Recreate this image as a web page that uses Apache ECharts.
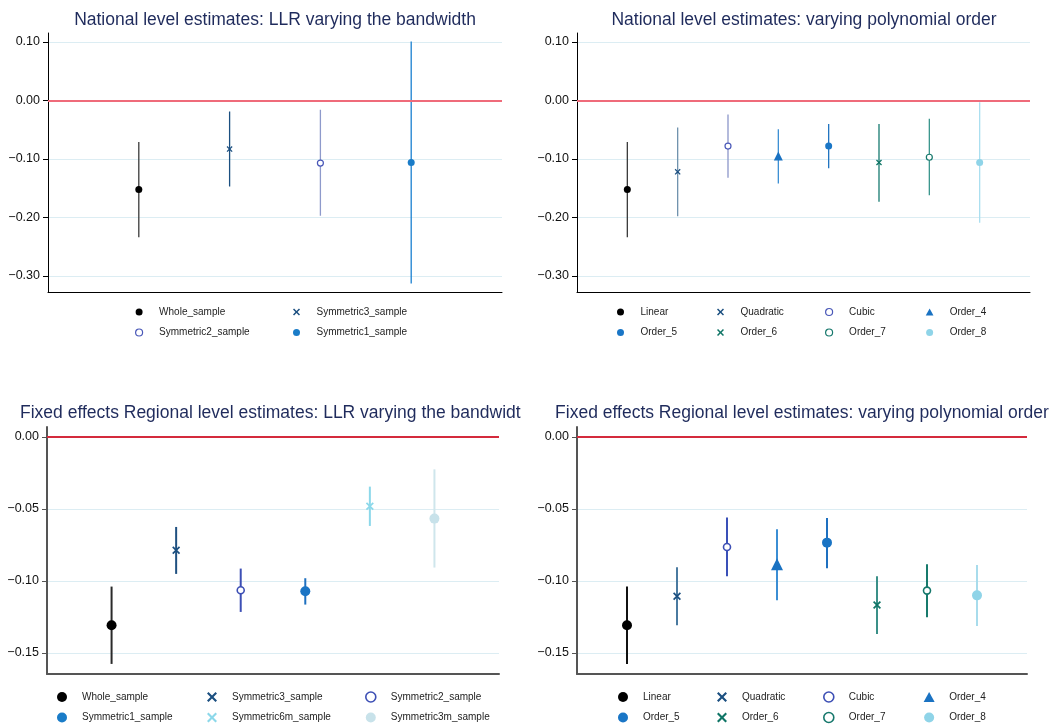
<!DOCTYPE html>
<html>
<head>
<meta charset="utf-8">
<script src="https://cdn.jsdelivr.net/npm/echarts@6/dist/echarts.min.js"></script>
<style>
  html, body { margin: 0; padding: 0; background: #fff; }
  #main { width: 1054px; height: 724px; }
</style>
</head>
<body>
<div id="main"></div>
<script>
// national level, LLR varying the bandwidth
const tlNames = ['Whole_sample', 'Symmetric3_sample', 'Symmetric2_sample', 'Symmetric1_sample']
const tlEst = [-0.152, -0.083, -0.107, -0.106]
const tlLo = [-0.234, -0.147, -0.197, -0.313]
const tlHi = [-0.071, -0.019, -0.016, 0.101]

// national level, varying polynomial order
const trNames = ['Linear', 'Quadratic', 'Cubic', 'Order_4', 'Order_5', 'Order_6', 'Order_7', 'Order_8']
const trEst = [-0.152, -0.122, -0.078, -0.095, -0.078, -0.106, -0.097, -0.106]
const trLo = [-0.234, -0.198, -0.132, -0.142, -0.116, -0.173, -0.162, -0.209]
const trHi = [-0.071, -0.046, -0.024, -0.049, -0.040, -0.040, -0.031, -0.003]

// fixed effects regional, LLR varying the bandwidth
const blNames = ['Whole_sample', 'Symmetric3_sample', 'Symmetric2_sample', 'Symmetric1_sample', 'Symmetric6m_sample', 'Symmetric3m_sample']
const blEst = [-0.1308, -0.0787, -0.1065, -0.1072, -0.0481, -0.0567]
const blLo = [-0.1576, -0.0951, -0.1215, -0.1164, -0.0618, -0.0907]
const blHi = [-0.1039, -0.0625, -0.0914, -0.0981, -0.0345, -0.0225]

// fixed effects regional, varying polynomial order
const brNames = trNames
const brEst = [-0.1308, -0.1106, -0.0764, -0.0884, -0.0734, -0.1167, -0.1067, -0.1100]
const brLo = [-0.1576, -0.1308, -0.0968, -0.1134, -0.0912, -0.1368, -0.1252, -0.1312]
const brHi = [-0.1039, -0.0905, -0.0560, -0.0641, -0.0563, -0.0968, -0.0884, -0.0889]

// y tick labels
const natTicks = [-0.3, -0.2, -0.1, 0, 0.1]
const regTicks = [-0.15, -0.1, -0.05, 0]

const FONT = '"Liberation Sans", Arial, Helvetica, sans-serif'
const CROSS = 'path://M0,1.5L1.5,0L5,3.5L8.5,0L10,1.5L6.5,5L10,8.5L8.5,10L5,6.5L1.5,10L0,8.5L3.5,5Z'
const HOLLOW = 'hollow'

const panels = [
  {
    title: 'National level estimates: LLR varying the bandwidth',
    names: tlNames, est: tlEst, lo: tlLo, hi: tlHi, ticks: natTicks,
    grid: { left: 48, top: 33, width: 454, height: 259 },
    yMin: -0.3274, yMax: 0.1154,
    titleX: 275, titleY: 11, titleAlign: 'center',
    symbols: ['circle', CROSS, HOLLOW, 'circle'],
    sizes: [7, 6, 6, 7],
    marker: ['#000000', '#1b4f80', '#4a58b8', '#1a7cc8'],
    line: ['#3a3a3a', '#1b4f80', '#8e9acb', '#1a80d0'],
    lineWidth: 1.3, ring: 1.2, refColor: '#ef6b7a', refWidth: 2, axisColor: '#000', axisWidth: 1,
    cols: 2, legendX: [140, 298], legendTop: 306, iconH: 7
  },
  {
    title: 'National level estimates: varying polynomial order',
    names: trNames, est: trEst, lo: trLo, hi: trHi, ticks: natTicks,
    grid: { left: 577, top: 33, width: 453, height: 259 },
    yMin: -0.3274, yMax: 0.1154,
    titleX: 804, titleY: 11, titleAlign: 'center',
    symbols: ['circle', CROSS, HOLLOW, 'triangle', 'circle', CROSS, HOLLOW, 'circle'],
    sizes: [7, 6, 6, 9, 7, 6, 6, 7],
    marker: ['#000000', '#1b4f80', '#4a58b8', '#1a72c2', '#1a76c6', '#0f7566', '#16786c', '#8fd4e8'],
    line: ['#3a3a3a', '#6f92ad', '#8c96c9', '#3b8ed4', '#1f73c0', '#167a70', '#3a958c', '#aadff0'],
    lineWidth: 1.3, ring: 1.2, refColor: '#ef6b7a', refWidth: 2, axisColor: '#000', axisWidth: 1,
    cols: 4, legendX: [622, 722, 830, 930], legendTop: 306, iconH: 7
  },
  {
    title: 'Fixed effects Regional level estimates: LLR varying the bandwidth',
    names: blNames, est: blEst, lo: blLo, hi: blHi, ticks: regTicks,
    grid: { left: 47, top: 427, width: 452, height: 247 },
    yMin: -0.1646, yMax: 0.0069,
    titleX: 20, titleY: 404, titleAlign: 'left', titleWidth: 507,
    symbols: ['circle', CROSS, HOLLOW, 'circle', CROSS, 'circle'],
    sizes: [10, 8, 7, 10, 8, 10],
    marker: ['#000000', '#1b4f80', '#3d4fb5', '#1a74c4', '#8cd8ea', '#c8e2ea'],
    line: ['#2a2a2a', '#1f5080', '#3d4fb5', '#1e70c0', '#8cd8ea', '#cfe6ec'],
    lineWidth: 2, ring: 1.6, refColor: '#d42a3c', refWidth: 2, axisColor: '#555', axisWidth: 2,
    cols: 3, legendX: [62, 212, 370], legendTop: 691, iconH: 10
  },
  {
    title: 'Fixed effects Regional level estimates: varying polynomial order',
    names: brNames, est: brEst, lo: brLo, hi: brHi, ticks: regTicks,
    grid: { left: 577, top: 427, width: 450, height: 247 },
    yMin: -0.1646, yMax: 0.0069,
    titleX: 802, titleY: 404, titleAlign: 'center',
    symbols: ['circle', CROSS, HOLLOW, 'triangle', 'circle', CROSS, HOLLOW, 'circle'],
    sizes: [10, 8, 7, 12, 10, 8, 7, 10],
    marker: ['#000000', '#1b4f80', '#3d4fb5', '#1a72c2', '#1a74c4', '#0f7566', '#16786c', '#8fd4e8'],
    line: ['#111111', '#4a7aa0', '#3a50b8', '#3b8ed4', '#1e70c0', '#3a9088', '#177a6c', '#a8dcec'],
    lineWidth: 2, ring: 1.6, refColor: '#d42a3c', refWidth: 2, axisColor: '#555', axisWidth: 2,
    cols: 4, legendX: [623, 722, 828, 929], legendTop: 691, iconH: 10
  }
]

function fmt (v) {
  return (v < 0 ? '\u2212' : '') + Math.abs(v).toFixed(2)
}

// legend icons get stretched to the item box, so the triangle is drawn
// inside a path that spans the full box
function triIcon (h) {
  const half = h * 0.55
  return 'path://M0,0M30,' + h + 'M' + (15 - half) + ',' + h + 'L' + (15 + half) + ',' + h + 'L15,0Z'
}

const titles = []
const grids = []
const xAxes = []
const yAxes = []
const series = []
const legends = []

panels.forEach(function (p, k) {
  const ts = { fontSize: 17.5, fontWeight: 'normal', color: '#1f2b5c', fontFamily: FONT }
  if (p.titleWidth) {
    // the reference clips this long title at the panel edge
    ts.width = p.titleWidth
    ts.overflow = 'truncate'
    ts.ellipsis = ''
  }
  titles.push({ text: p.title, left: p.titleX, top: p.titleY, textAlign: p.titleAlign, padding: 0, textStyle: ts })
  grids.push(Object.assign({ containLabel: false }, p.grid))
  xAxes.push({
    type: 'value', gridIndex: k, min: 0, max: p.names.length + 1,
    axisLine: { onZero: false, lineStyle: { color: p.axisColor, width: p.axisWidth } },
    axisTick: { show: false }, axisLabel: { show: false }, splitLine: { show: false }
  })
  yAxes.push({
    type: 'value', gridIndex: k, min: p.yMin, max: p.yMax,
    axisLine: { show: true, onZero: false, lineStyle: { color: p.axisColor, width: p.axisWidth } },
    axisTick: { show: true, length: 5, customValues: p.ticks, lineStyle: { color: p.axisColor, width: 1 } },
    axisLabel: { customValues: p.ticks, formatter: fmt, fontSize: 12.5, color: '#111', fontFamily: FONT, margin: 8 },
    splitLine: { show: true, lineStyle: { color: '#dcedf3', width: 1 } }
  })

  p.names.forEach(function (name, i) {
    // confidence interval
    const ci = {
      name: name + '_ci', type: 'line', xAxisIndex: k, yAxisIndex: k,
      data: [[i + 1, p.lo[i]], [i + 1, p.hi[i]]],
      symbol: 'none', silent: true, z: 2,
      lineStyle: { color: p.line[i], width: p.lineWidth }
    }
    if (i === 0) {
      ci.markLine = {
        silent: true, symbol: 'none', label: { show: false },
        lineStyle: { color: p.refColor, width: p.refWidth, type: 'solid' },
        data: [{ yAxis: 0 }]
      }
    }
    series.push(ci)
    const hollow = p.symbols[i] === HOLLOW
    series.push({
      name: name, type: 'scatter', xAxisIndex: k, yAxisIndex: k,
      data: [[i + 1, p.est[i]]], z: 3,
      symbol: hollow ? 'circle' : p.symbols[i], symbolSize: p.sizes[i],
      itemStyle: hollow
        ? { color: '#fff', borderColor: p.marker[i], borderWidth: p.ring, opacity: 1 }
        : { color: p.marker[i], opacity: 1 }
    })
  })

  // one vertical legend per column
  for (let c = 0; c < p.cols; c++) {
    const items = []
    let shift = 0
    p.names.forEach(function (n, i) {
      if (i % p.cols !== c) return
      if (p.symbols[i] === HOLLOW) {
        items.push({ name: n, itemStyle: { color: '#fff', borderColor: p.marker[i], borderWidth: p.ring } })
      } else if (p.symbols[i] === 'triangle') {
        items.push({ name: n, icon: triIcon(p.iconH + 1) })
        shift = 8.5 // the path icon pushes this column right
      } else {
        items.push({ name: n })
      }
    })
    legends.push({
      orient: 'vertical', left: p.legendX[c] - 5 - shift, top: p.legendTop, height: 60, padding: 0,
      itemWidth: 30, itemHeight: p.iconH, itemGap: 8.5,
      selectedMode: false,
      data: items,
      textStyle: { fontSize: 10, lineHeight: 12, color: '#222', fontFamily: FONT }
    })
  }
})

const myChart = echarts.init(document.getElementById('main'))
myChart.setOption({
  animation: false,
  backgroundColor: '#fff',
  title: titles,
  grid: grids,
  xAxis: xAxes,
  yAxis: yAxes,
  legend: legends,
  series: series
})
</script>
</body>
</html>
